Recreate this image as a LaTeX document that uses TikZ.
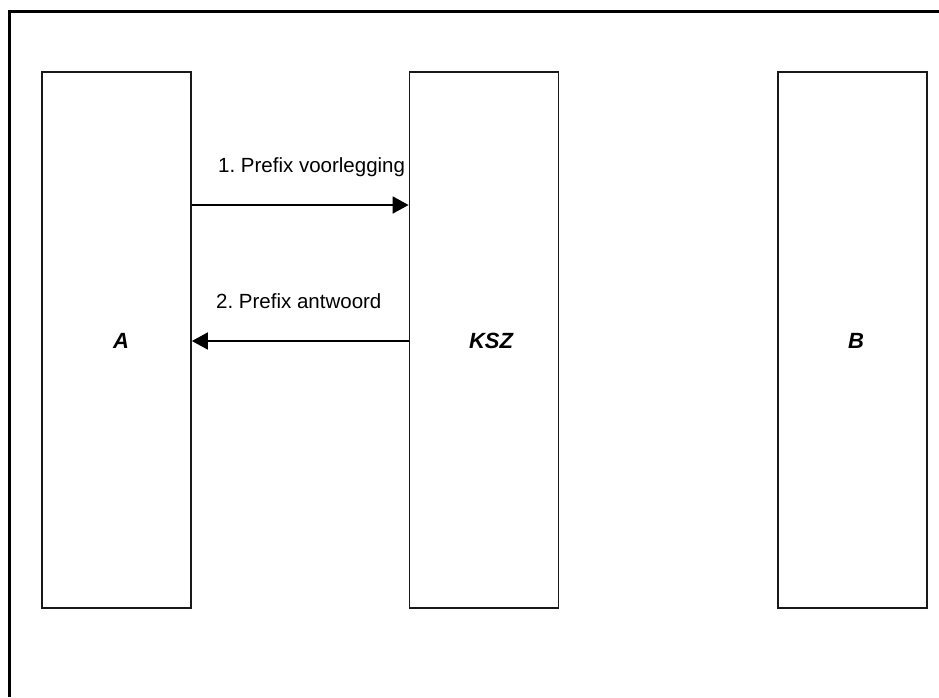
\documentclass[tikz,border=0pt]{standalone}
\usepackage{fontspec}
\setmainfont{Liberation Sans}
\usetikzlibrary{arrows.meta}
\frenchspacing
\begin{document}
\begin{tikzpicture}[x=1pt,y=-1pt,
  lane/.style={draw=black!90,line width=1.8pt,minimum width=149pt,minimum height=536pt,inner sep=0pt,anchor=center},
  lanelabel/.style={inner sep=0pt,font=\fontsize{22}{26}\selectfont\bfseries\itshape},
  msg/.style={line width=1.8pt,-{Triangle[length=16pt,width=17pt]}},
  msglabel/.style={inner sep=0pt,anchor=base west,font=\fontsize{20.5}{24}\selectfont}]
\useasboundingbox (0,0) rectangle (939,697);
\fill[white] (0,0) rectangle (939,697);
\draw[line width=3pt] (9.5,697) -- (9.5,11.5) -- (939,11.5);
\node[lane] (A) at (116.5,340) {};
\node[lane] (KSZ) at (484,340) {};
\node[lane] (B) at (852.5,340) {};
\node[lanelabel] (tA) at (121,341) {A};
\node[lanelabel] (tK) at (491,341) {KSZ};
\node[lanelabel] (tB) at (856,341) {B};
\draw[msg] ([yshift=135pt]A.east) -- ([yshift=135pt]KSZ.west);
\draw[msg] ([yshift=-1pt]KSZ.west) -- ([yshift=-1pt]A.east);
\node[msglabel] (m1) at (218,172) {1. Prefix voorlegging};
\node[msglabel] (m2) at (216,308) {2. Prefix antwoord};
\end{tikzpicture}
\end{document}
